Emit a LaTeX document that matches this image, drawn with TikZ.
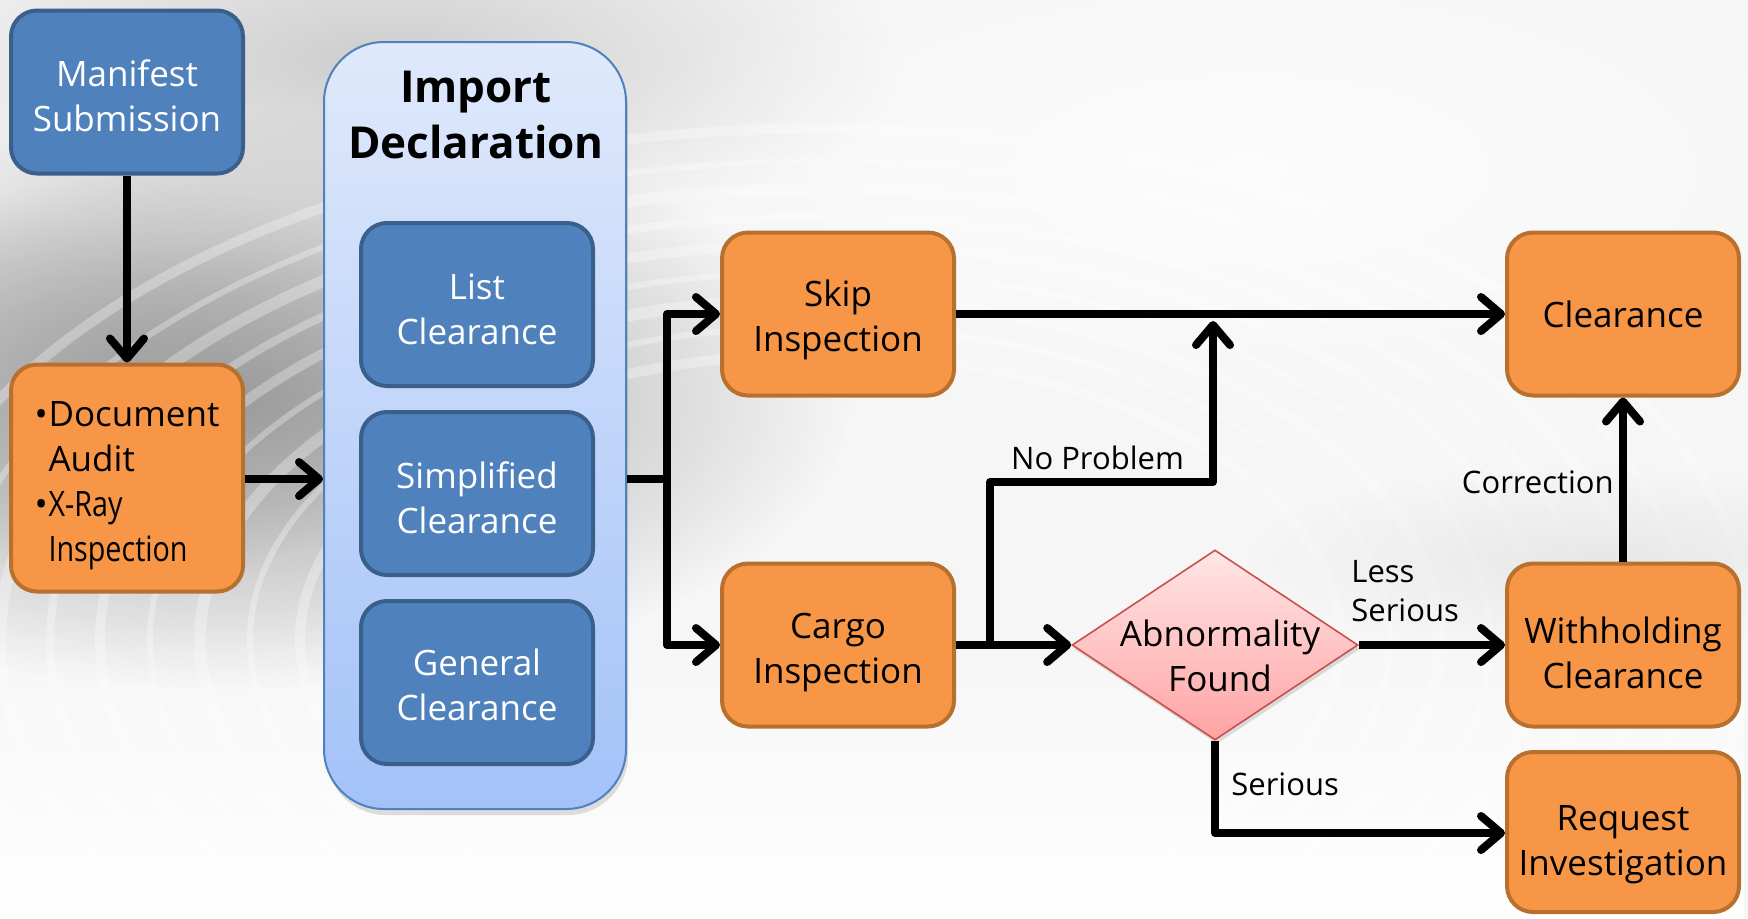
\documentclass[tikz,border=0pt]{standalone}
\usepackage{fontspec}
\setmainfont{Open Sans}
\usetikzlibrary{arrows.meta,shapes.geometric,fadings,shadows,calc}

\definecolor{boxblue}{HTML}{4F81BD}
\definecolor{boxblueline}{HTML}{3A5F8B}
\definecolor{boxorange}{HTML}{F79646}
\definecolor{boxorangeline}{HTML}{B8702F}
\definecolor{declline}{HTML}{4F81BD}
\definecolor{decltop}{HTML}{DFE9FB}
\definecolor{declbottom}{HTML}{A3C2F8}
\definecolor{dectop}{HTML}{FFE6E6}
\definecolor{decbottom}{HTML}{FFA3A3}
\definecolor{decline}{HTML}{C8504D}
\definecolor{bgbase}{HTML}{F6F6F6}
\definecolor{bgdark}{HTML}{9C9C9C}
\definecolor{bgmid}{HTML}{CDCDCD}

% radial soft spot: opaque in the middle, clear at the rim
\tikzfading[name=softspot, inner color=transparent!0, outer color=transparent!100]

% invisible strut that gives the first text line extra height,
% which lowers the whole text block inside its box
\newcommand{\topgap}[1]{\rule{0pt}{#1}}

\tikzset{
  boxtext/.style={align=center, font=\fontsize{17.5}{22.5}\selectfont},
  bluebox/.style={boxtext, draw=boxblueline, fill=boxblue, line width=2pt,
    rounded corners=13pt, minimum width=116pt, minimum height=81.5pt, text=white},
  orangebox/.style={boxtext, draw=boxorangeline, fill=boxorange, line width=2pt,
    rounded corners=13pt, minimum width=116pt, minimum height=81.5pt, text=black},
  container/.style={draw=declline, line width=1pt, rounded corners=30pt,
    top color=decltop, bottom color=declbottom,
    minimum width=151pt, minimum height=383.5pt,
    drop shadow={opacity=0.25, shadow xshift=1pt, shadow yshift=-3pt}},
  decision/.style={shape=diamond, draw=decline, line width=0.8pt,
    top color=dectop, bottom color=decbottom, inner sep=0pt,
    minimum width=143pt, minimum height=95pt,
    drop shadow={opacity=0.25, shadow xshift=1pt, shadow yshift=-2pt}},
  titletext/.style={align=center, font=\fontsize{22}{28}\selectfont\bfseries},
  lbl/.style={font=\fontsize{15.5}{19.5}\selectfont, inner sep=1pt},
  flow/.style={line width=4pt, line join=round,
    -{Straight Barb[length=10pt,width=17pt,round]}},
  link/.style={line width=4pt, line join=round},
}

\begin{document}
\begin{tikzpicture}[x=0.5pt,y=-0.5pt]
  % backdrop with soft grey swirl
  \fill[bgbase] (0,0) rectangle (1748,918);
  \useasboundingbox (0,0) rectangle (1748,918);
  \begin{scope}
    \clip (0,0) rectangle (1748,918);
    \fill[bgmid, path fading=softspot] (380,60) ellipse (520 and 190);
    \fill[bgdark, path fading=softspot] (230,400) ellipse (620 and 290);
    \fill[bgdark, opacity=0.6, path fading=softspot] (120,380) ellipse (330 and 200);
    \foreach \r/\w in {520/5,570/3,620/6,670/3,720/5,770/4,820/6,870/3,930/5} {
      \draw[white, opacity=0.3, line width=\w pt] (820,640) ellipse (\r*1.0 and \r*0.55);
    }
    \fill[white, path fading=north] (0,620) rectangle (1748,918);
    \fill[white, opacity=0.7, path fading=softspot] (1250,170) ellipse (650 and 260);
    \fill[gray!30, opacity=0.5, path fading=softspot] (1600,560) ellipse (350 and 90);
  \end{scope}

  % stage boxes
  \node[bluebox] (ms) at (127,92) {\topgap{16.8pt}Manifest\\Submission};
  \node[orangebox, align=left, minimum height=113.5pt] (doc) at (127,478)
    {\topgap{20.3pt}\makebox[7pt][l]{\textbullet}Document\\\hspace*{7pt}Audit\\
     \makebox[7pt][l]{\textbullet}\scalebox{0.82}[1]{X-Ray}\\\hspace*{7pt}\scalebox{0.82}[1]{Inspection}};

  \node[container] (decl) at (475,425.5) {};
  \node[titletext] (decltitle) at (476,115) {Import\\Declaration};
  \node[bluebox] (list) at (477,304.5) {\topgap{17.3pt}List\\Clearance};
  \node[bluebox] (simp) at (477,493.5) {\topgap{17.3pt}Simplified\\Clearance};
  \node[bluebox] (gen) at (477,682.5) {\topgap{15.8pt}General\\Clearance};

  \node[orangebox] (skip) at (838,314) {\topgap{18.9pt}Skip\\Inspection};
  \node[orangebox] (cargo) at (838,645) {\topgap{20.3pt}Cargo\\Inspection};
  \node[orangebox] (clear) at (1623,314) {Clearance};
  \node[orangebox] (with) at (1623,645) {\topgap{21pt}Withholding\\Clearance};
  \node[orangebox, minimum height=80pt] (req) at (1623,832) {\topgap{25.5pt}Request\\Investigation};

  \node[decision] (abn) at (1215,645) {};
  \node[boxtext] (abntext) at (1220,656) {Abnormality\\Found};

  % routing points
  \coordinate (split) at (667,479);
  \coordinate (nb) at (990,482);
  \coordinate (np) at (1213,482);
  \coordinate (sdown) at (1215,833);

  % connectors
  \draw[flow] (ms.south) -- (doc.north);
  \draw[flow] (doc.east |- split) -- (decl.west |- split);
  \draw[link] (decl.east |- split) -- (split);
  \draw[flow] (split) |- (skip.west);
  \draw[flow] (split) |- (cargo.west);
  \draw[flow] (skip.east) -- (clear.west);
  \draw[flow] (cargo.east) -- (abn.west);
  \draw[flow] (cargo.east -| nb) -- (nb) -- (np) -- ($(np |- skip.east)+(0,7)$);
  \draw[flow] (abn.east) -- (with.west);
  \draw[flow] (with.north) -- (clear.south);
  \draw[flow] (abn.south) -- (sdown) -- (req.west |- sdown);

  % connector labels
  \node[lbl, anchor=south] (nplbl) at ($(nb)!0.5!(np)+(-4,-10)$) {No Problem};
  \node[lbl, anchor=east] (corrlbl) at (1616,482) {Correction};
  \node[lbl, anchor=west, align=left] (lesslbl) at (1349,591) {Less\\Serious};
  \node[lbl, anchor=west] (serlbl) at (1229,784) {Serious};
\end{tikzpicture}
\end{document}
